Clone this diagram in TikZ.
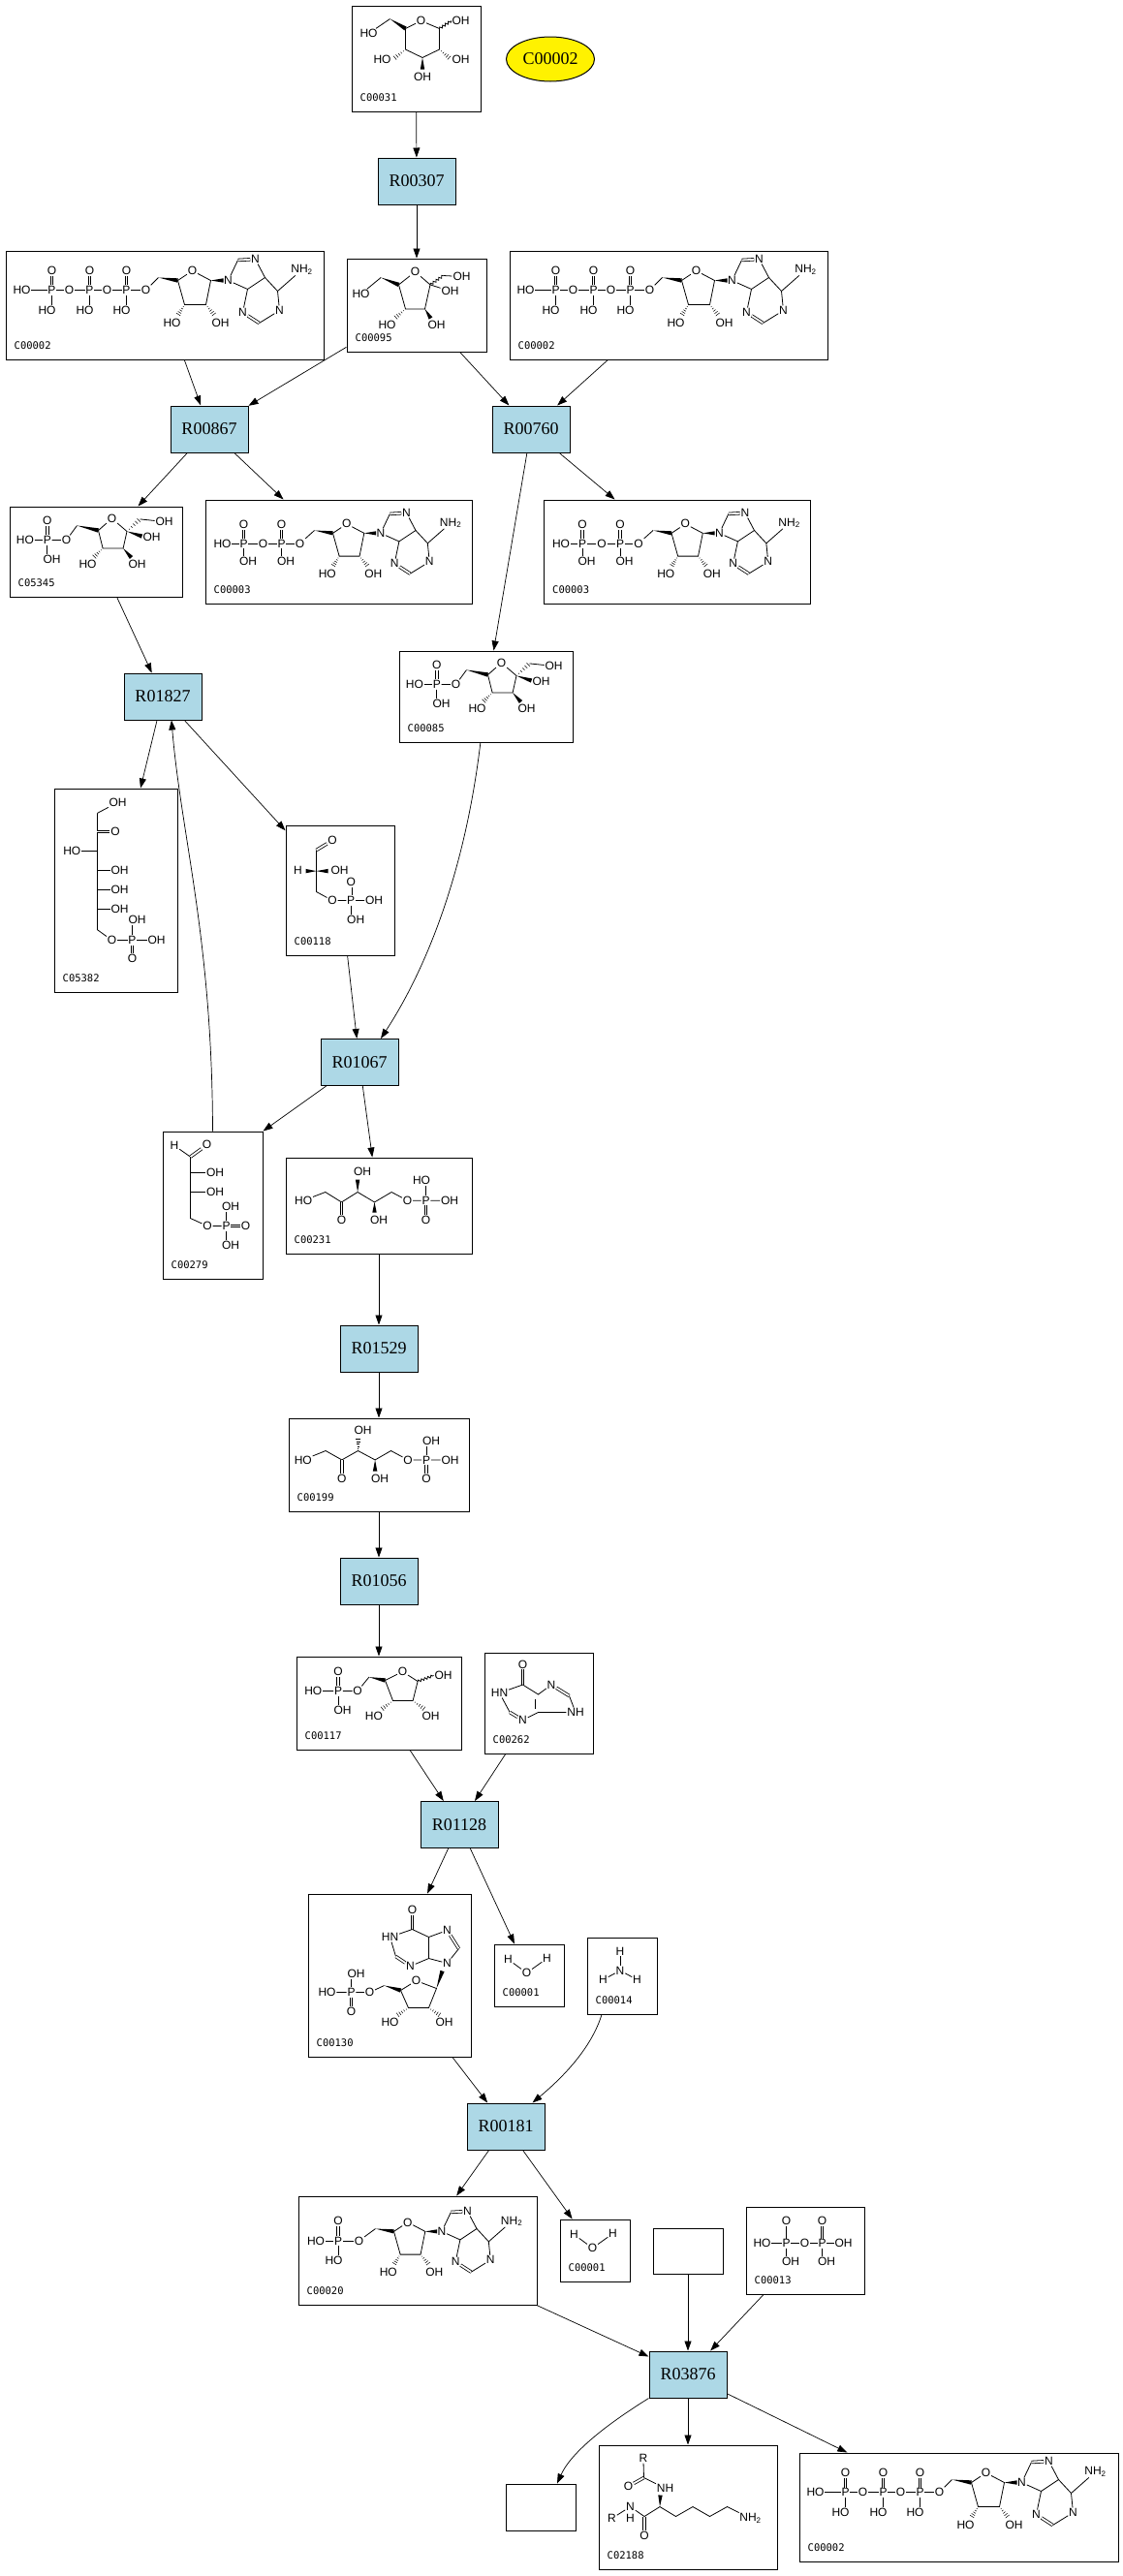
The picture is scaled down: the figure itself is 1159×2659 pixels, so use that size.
\documentclass[tikz,border=0pt]{standalone}
\usepackage{fontspec}
\setmainfont{Liberation Serif}
\newfontfamily\chemf{Liberation Sans}
\newfontfamily\idf{DejaVu Sans Mono}
\usetikzlibrary{arrows.meta,calc,shapes.geometric,decorations.pathmorphing}
\definecolor{rxnblue}{HTML}{ADD8E6}
\newcommand\wdg[2]{\fill ($(#1)$) -- ($(#2)!2.2pt!90:(#1)$) -- ($(#2)!2.2pt!-90:(#1)$) -- cycle;}
\newcommand\hsh[2]{\foreach \k in {1,...,5}{\draw[line width=0.5pt] ($(#1)!\k/5.5!(#2)!0.5*\k pt!90:(#2)$) -- ($(#1)!\k/5.5!(#2)!0.5*\k pt!-90:(#2)$);}}
\newcommand\idlab[2]{\node[idl] (l#1) at ($(#1.south west)+(9,-15)$) {#2};}
\newcommand\adenosine{%
 \coordinate (s5) at (0,0); \coordinate (s4) at (20,3);
 \node[atm] (so) at (35,-7) {O};
 \coordinate (s1) at (54,3); \coordinate (s2) at (49,28); \coordinate (s3) at (27,28);
 \node[atm] (sho) at (14,47) {HO}; \node[atm] (soh) at (64,47) {OH};
 \coordinate (h3) at (20,39); \coordinate (h2) at (58,39);
 \wdg{s5}{s4}
 \draw[bnd] (s4)--(so)--(s1)--(s2)--(s3)--(s4);
 \hsh{s3}{h3} \hsh{s2}{h2}
 \node[atm] (n9) at (72,3) {N}; \coordinate (n9w) at (67,3);
 \wdg{s1}{n9w}
 \coordinate (c8) at (82,-18); \node[atm] (n7) at (100,-19) {N};
 \coordinate (c5) at (110,0); \coordinate (c4) at (92,12);
 \node[atm] (n3) at (87,36) {N}; \coordinate (c2) at (104,47);
 \node[atm] (n1) at (125,34) {N}; \coordinate (c6) at (123,14);
 \node[atm] (nh2) at (148,-8) {NH\textsubscript{2}};
 \draw[bnd] (n9)--(c8); \draw[dbd] (c8)--(n7);
 \draw[bnd] (n7)--(c5)--(c4)--(n9); \draw[bnd] (c4)--(n3);
 \draw[dbd] (n3)--(c2); \draw[bnd] (c2)--(n1)--(c6)--(c5); \draw[bnd] (c6)--(nh2);
}
\tikzset{
 cbox/.style={draw, line width=1pt, inner sep=0, fill=white},
 rxn/.style={draw, line width=1pt, fill=rxnblue, minimum width=80pt, minimum height=48pt, inner sep=0, font=\fontsize{18}{18}\selectfont},
 atm/.style={font=\chemf\fontsize{12}{12}\selectfont, inner sep=0.7pt},
 idl/.style={anchor=west, font=\idf\fontsize{10.5}{10.5}\selectfont, inner sep=0},
 bnd/.style={line width=0.8pt},
 dbd/.style={bnd, double, double distance=1.8pt},
 wav/.style={bnd, decorate, decoration={snake, amplitude=1.2pt, segment length=3.5pt}},
 arr/.style={line width=0.7pt, -{Triangle[length=10pt,width=7pt]}},
 atp/.pic={
  \node[atm] (p1ho) at (17,41) {HO};
  \node[atm] (p1) at (48,41) {P}; \node[atm] (p1o) at (48,21) {O}; \node[atm] (p1b) at (43,62) {HO};
  \node[atm] (o12) at (66,41) {O};
  \node[atm] (p2) at (87,41) {P}; \node[atm] (p2o) at (87,21) {O}; \node[atm] (p2b) at (82,62) {HO};
  \node[atm] (o23) at (105,41) {O};
  \node[atm] (p3) at (125,41) {P}; \node[atm] (p3o) at (125,21) {O}; \node[atm] (p3b) at (120,62) {HO};
  \node[atm] (o35) at (145,41) {O};
  \draw[bnd] (p1ho)--(p1)--(o12)--(p2)--(o23)--(p3)--(o35);
  \draw[dbd] (p1)--(p1o); \draw[dbd] (p2)--(p2o); \draw[dbd] (p3)--(p3o);
  \draw[bnd] (p1.south)--(p1.south|-p1b.north); \draw[bnd] (p2.south)--(p2.south|-p2b.north); \draw[bnd] (p3.south)--(p3.south|-p3b.north);
  \coordinate (ch2) at (158,28); \draw[bnd] (o35)--(ch2);
  \begin{scope}[shift={(158,28)}] \adenosine \end{scope}
 },
 adp/.pic={
  \node[atm] (p1ho) at (18,45.5) {HO};
  \node[atm] (p1) at (40,45.5) {P}; \node[atm] (p1o) at (40,26) {O}; \node[atm] (p1b) at (44.5,64) {OH};
  \node[atm] (o12) at (60,45.5) {O};
  \node[atm] (p2) at (79,45.5) {P}; \node[atm] (p2o) at (79,26) {O}; \node[atm] (p2b) at (83.5,64) {OH};
  \node[atm] (o25) at (98,45.5) {O};
  \draw[bnd] (p1ho)--(p1)--(o12)--(p2)--(o25);
  \draw[dbd] (p1)--(p1o); \draw[dbd] (p2)--(p2o);
  \draw[bnd] (p1.south)--(p1.south|-p1b.north); \draw[bnd] (p2.south)--(p2.south|-p2b.north);
  \coordinate (ch2) at (113,32); \draw[bnd] (o25)--(ch2);
  \begin{scope}[shift={(113,32)},scale=0.95] \adenosine \end{scope}
 },
 amp/.pic={
  \node[atm] (p1ho) at (18.5,46.5) {HO};
  \node[atm] (p1) at (41.6,46.5) {P}; \node[atm] (p1o) at (41.6,26) {O}; \node[atm] (p1b) at (37,66.6) {HO};
  \node[atm] (o15) at (63,46.5) {O};
  \draw[bnd] (p1ho)--(p1)--(o15); \draw[dbd] (p1)--(p1o);
  \draw[bnd] (p1.south)--(p1.south|-p1b.north);
  \coordinate (ch2) at (80,34); \draw[bnd] (o15)--(ch2);
  \begin{scope}[shift={(80,34)},scale=0.95] \adenosine \end{scope}
 },
 glc/.pic={
  \node[atm] (g1) at (18,29) {HO};
  \coordinate (g2) at (40,14); \coordinate (g3) at (56,24);
  \node[atm] (g4) at (72,16) {O};
  \coordinate (g5) at (91,24);
  \node[atm] (g6) at (113,16) {OH};
  \coordinate (g7) at (91,45.5); \coordinate (g8) at (73.5,54); \coordinate (g9) at (56,45.5);
  \node[atm] (g10) at (113,55.5) {OH}; \node[atm] (g11) at (32,55.5) {HO}; \node[atm] (g12) at (73.5,74) {OH};
  \coordinate (g13) at (102,55); \coordinate (g14) at (44,55); \coordinate (g15) at (73.5,66);
  \draw[bnd] (g1)--(g2); \wdg{g2}{g3}
  \draw[bnd] (g3)--(g4)--(g5)--(g7)--(g8)--(g9)--(g3);
  \draw[wav] (g5)--(g6.west);
  \hsh{g7}{g13} \hsh{g9}{g14} \wdg{g8}{g15}
 },
 frc/.pic={
  \node[atm] (f1) at (15,37) {HO};
  \coordinate (f2) at (35.6,20); \coordinate (f3) at (54,27.4);
  \node[atm] (f4) at (71,14) {O};
  \coordinate (f5) at (86.5,27.4); \coordinate (f6) at (100,18);
  \node[atm] (f7) at (119,19) {OH}; \node[atm] (f8) at (107,34) {OH};
  \coordinate (f9) at (81,52.4); \coordinate (f10) at (61,52.4);
  \node[atm] (f11) at (42,69) {HO}; \node[atm] (f12) at (93,69) {OH};
  \coordinate (f13) at (50,62); \coordinate (f14) at (87,62);
  \draw[bnd] (f1)--(f2); \wdg{f2}{f3}
  \draw[bnd] (f3)--(f4)--(f5)--(f9)--(f10)--(f3);
  \draw[wav] (f5)--(f6); \draw[bnd] (f6)--(f7); \draw[bnd] (f5)--(f8);
  \hsh{f10}{f13} \wdg{f9}{f14}
 },
 fsp/.pic={
  \node[atm] (q1) at (39.3,15) {O}; \node[atm] (q2) at (39.3,35) {P};
  \node[atm] (q3) at (16.4,35) {HO}; \node[atm] (q4) at (59,35) {O}; \node[atm] (q5) at (44,55) {OH};
  \coordinate (q6) at (70,20); \coordinate (q7) at (92,25);
  \node[atm] (q8) at (106,12.7) {O};
  \coordinate (q9) at (121.5,26); \coordinate (q10) at (135,13.4);
  \node[atm] (q11) at (160,16) {OH}; \node[atm] (q12) at (147,31.8) {OH};
  \coordinate (q13) at (117.6,43.5); \coordinate (q14) at (96.6,43.5);
  \node[atm] (q15) at (81,60) {HO}; \node[atm] (q16) at (132,60) {OH};
  \coordinate (q17) at (87,53); \coordinate (q18) at (126,53); \coordinate (q19) at (137,31);
  \draw[dbd] (q2)--(q1); \draw[bnd] (q3)--(q2)--(q4)--(q6);
  \draw[bnd] (q2.south)--(q2.south|-q5.north);
  \wdg{q6}{q7}
  \draw[bnd] (q7)--(q8)--(q9)--(q13)--(q14)--(q7);
  \hsh{q9}{q10} \draw[bnd] (q10)--(q11);
  \wdg{q9}{q19} \hsh{q14}{q17} \wdg{q13}{q18}
 },
 sed/.pic={
  \coordinate (e0) at (44.7,26); \coordinate (e1) at (44.7,146);
  \draw[bnd] (e0)--(e1);
  \node[atm] (e2) at (66,14.7) {OH}; \draw[bnd] (e0)--(e2);
  \node[atm] (e3) at (63.5,45) {O}; \draw[dbd] (44.7,45)--(e3);
  \node[atm] (e4) at (18.8,65) {HO}; \draw[bnd] (e4)--(44.7,65);
  \node[atm] (e5) at (68,85) {OH}; \draw[bnd] (44.7,85)--(e5);
  \node[atm] (e6) at (68,105) {OH}; \draw[bnd] (44.7,105)--(e6);
  \node[atm] (e7) at (68,125) {OH}; \draw[bnd] (44.7,125)--(e7);
  \node[atm] (e8) at (60,157) {O}; \draw[bnd] (e1)--(e8);
  \node[atm] (e9) at (81,157) {P}; \node[atm] (e10) at (86,136) {OH};
  \node[atm] (e11) at (106,157) {OH}; \node[atm] (e12) at (81,176) {O};
  \draw[bnd] (e8)--(e9)--(e11); \draw[bnd] (e9.north)--(e9.north|-e10.south); \draw[dbd] (e9)--(e12);
 },
 gap/.pic={
  \node[atm] (t1) at (48.5,16) {O}; \coordinate (t2) at (32,26); \coordinate (t3) at (32,47.6);
  \node[atm] (t4) at (13,47) {H}; \node[atm] (t5) at (56,47) {OH};
  \coordinate (t6) at (32,69); \node[atm] (t7) at (48.5,78) {O}; \node[atm] (t8) at (67.7,78) {P};
  \node[atm] (t9) at (67.7,59) {O}; \node[atm] (t10) at (91.6,78) {OH}; \node[atm] (t11) at (72.7,98) {OH};
  \coordinate (t12) at (21,47.6); \coordinate (t13) at (44,47.6);
  \draw[dbd] (t2)--(t1); \draw[bnd] (t2)--(t6)--(t7)--(t8)--(t10); \draw[dbd] (t8)--(t9);
  \draw[bnd] (t8.south)--(t8.south|-t11.north);
  \wdg{t3}{t12} \wdg{t3}{t13}
 },
 ery/.pic={
  \node[atm] (u1) at (12.5,15) {H}; \coordinate (u2) at (29,26.6); \node[atm] (u3) at (46,14.3) {O};
  \coordinate (u4) at (29,90);
  \node[atm] (u5) at (54.5,43) {OH}; \node[atm] (u6) at (54.5,63) {OH};
  \node[atm] (u7) at (46.5,98) {O}; \node[atm] (u8) at (66,98) {P}; \node[atm] (u9) at (70.5,78) {OH};
  \node[atm] (u10) at (86,98) {O}; \node[atm] (u11) at (70.5,117.5) {OH};
  \draw[bnd] (u1)--(u2); \draw[dbd] (u2)--(u3); \draw[bnd] (u2)--(u4)--(u7)--(u8);
  \draw[bnd] (29,43)--(u5); \draw[bnd] (29,63)--(u6); \draw[dbd] (u8)--(u10);
  \draw[bnd] (u8.north)--(u8.north|-u9.south); \draw[bnd] (u8.south)--(u8.south|-u11.north);
 },
 xul/.pic={
  \node[atm] (v1) at (18.6,44.7) {HO}; \coordinate (v2) at (41.3,36); \coordinate (v3) at (58,46.4);
  \node[atm] (v4) at (58,65) {O}; \coordinate (v5) at (74.6,36); \node[atm] (v6) at (79.6,14.4) {OH};
  \coordinate (v7) at (74.6,23); \coordinate (v8) at (92,46.4); \coordinate (v9) at (92,57);
  \node[atm] (v10) at (96.5,65) {OH}; \coordinate (v11) at (109.6,36);
  \node[atm] (v12) at (126,44.7) {O}; \node[atm] (v13) at (145,44.7) {P}; \node[atm] (v14) at (140.5,24) {HO};
  \node[atm] (v15) at (169.5,44.7) {OH}; \node[atm] (v16) at (145,65) {O};
  \draw[bnd] (v1)--(v2)--(v3)--(v5)--(v8)--(v11)--(v12)--(v13)--(v15);
  \draw[dbd] (v3)--(v4); \wdg{v5}{v7} \wdg{v8}{v9}
  \draw[bnd] (v13.north)--(v13.north|-v14.south); \draw[dbd] (v13)--(v16);
 },
 rul/.pic={
  \node[atm] (w1) at (15.3,43.4) {HO}; \coordinate (w2) at (38.6,34); \coordinate (w3) at (55.3,43.4);
  \node[atm] (w4) at (55.3,63) {O}; \coordinate (w5) at (72,34); \node[atm] (w6) at (77,13) {OH};
  \coordinate (w7) at (72,21); \coordinate (w8) at (89.6,43.4); \coordinate (w9) at (89.6,55);
  \node[atm] (w10) at (94.6,63) {OH}; \coordinate (w11) at (106,34);
  \node[atm] (w12) at (123.5,43.4) {O}; \node[atm] (w13) at (142.5,43.4) {P}; \node[atm] (w14) at (147.5,24) {OH};
  \node[atm] (w15) at (167,43.4) {OH}; \node[atm] (w16) at (142.5,63) {O};
  \draw[bnd] (w1)--(w2)--(w3)--(w5)--(w8)--(w11)--(w12)--(w13)--(w15);
  \draw[dbd] (w3)--(w4); \hsh{w5}{w7} \wdg{w8}{w9}
  \draw[bnd] (w13.north)--(w13.north|-w14.south); \draw[dbd] (w13)--(w16);
 },
 rib/.pic={
  \node[atm] (x1) at (17.8,36) {HO}; \node[atm] (x2) at (43.5,36) {P}; \node[atm] (x3) at (43.5,16) {O};
  \node[atm] (x4) at (48,56) {OH}; \node[atm] (x5) at (63.6,36) {O};
  \coordinate (x6) at (75.4,21.6); \coordinate (x7) at (92,25); \node[atm] (x8) at (110,16) {O};
  \coordinate (x9) at (125.6,26); \node[atm] (x10) at (152,20) {OH};
  \coordinate (x11) at (120.6,46); \coordinate (x12) at (100,46);
  \node[atm] (x13) at (80.4,61.6) {HO}; \node[atm] (x14) at (139,61.6) {OH};
  \coordinate (x15) at (88,55); \coordinate (x16) at (133,55);
  \draw[bnd] (x1)--(x2)--(x5)--(x6); \draw[dbd] (x2)--(x3); \draw[bnd] (x2.south)--(x2.south|-x4.north);
  \wdg{x6}{x7}
  \draw[bnd] (x7)--(x8)--(x9)--(x11)--(x12)--(x7);
  \draw[wav] (x9)--(x10.west);
  \hsh{x12}{x15} \hsh{x11}{x16}
 },
 hyp/.pic={
  \node[atm] (y1) at (40,12.7) {O}; \coordinate (y2) at (40,33.5); \node[atm] (y3) at (16,42) {HN};
  \coordinate (y4) at (26.7,62); \node[atm] (y5) at (40,70) {N}; \coordinate (y6) at (56,62);
  \coordinate (y7) at (56,43.5); \node[atm] (y8) at (69.5,33.5) {N}; \coordinate (y9) at (88,45);
  \node[atm] (y10) at (94.5,62) {NH};
  \draw[dbd] (y2)--(y1); \draw[bnd] (y2)--(y3)--(y4); \draw[dbd] (y4)--(y5);
  \draw[bnd] (y5)--(y6)--(y10); \draw[bnd] (y2)--(y7)--(y8); \draw[dbd] (y8)--(y9); \draw[bnd] (y9)--(y10);
  \draw[bnd] (53,48)--(53,58);
 },
 imp/.pic={
  \node[atm] (i1) at (108,17) {O}; \coordinate (i2) at (108,37); \node[atm] (i3) at (85,45) {HN};
  \coordinate (i4) at (91,65); \node[atm] (i5) at (106,75) {N}; \coordinate (i6) at (125,67);
  \coordinate (i7) at (125,45); \node[atm] (i8) at (144,38) {N}; \coordinate (i9) at (156,57);
  \node[atm] (i10) at (144,72) {N};
  \draw[dbd] (i2)--(i1); \draw[bnd] (i2)--(i3)--(i4); \draw[dbd] (i4)--(i5);
  \draw[bnd] (i5)--(i6)--(i7)--(i2); \draw[bnd] (i7)--(i8); \draw[dbd] (i8)--(i9);
  \draw[bnd] (i9)--(i10)--(i6);
  \node[atm] (i11) at (112,90) {O}; \coordinate (i12) at (133,98); \coordinate (i13) at (125,118);
  \coordinate (i14) at (104,118); \coordinate (i15) at (96,100); \coordinate (i16) at (79,95);
  \node[atm] (i17) at (64,102) {O}; \node[atm] (i18) at (45,102) {P}; \node[atm] (i19) at (50,83) {OH};
  \node[atm] (i20) at (20,102) {HO}; \node[atm] (i21) at (45,122) {O};
  \node[atm] (i22) at (85,133) {HO}; \node[atm] (i23) at (141,133) {OH};
  \coordinate (i24) at (139,80); \coordinate (i25) at (92,126); \coordinate (i26) at (137,126);
  \draw[bnd] (i20)--(i18)--(i17)--(i16); \wdg{i16}{i15}
  \draw[bnd] (i15)--(i11)--(i12)--(i13)--(i14)--(i15);
  \wdg{i12}{i24} \hsh{i14}{i25} \hsh{i13}{i26}
  \draw[dbd] (i18)--(i21); \draw[bnd] (i18.north)--(i18.north|-i19.south);
 },
 wat/.pic={
  \node[atm] (k1) at (15,16) {H}; \node[atm] (k2) at (34,30) {O}; \node[atm] (k3) at (55,15) {H};
  \draw[bnd] (k1)--(k2)--(k3);
 },
 amm/.pic={
  \node[atm] (m1) at (34.5,14.5) {H}; \node[atm] (m2) at (34.5,34.5) {N};
  \node[atm] (m3) at (17,44) {H}; \node[atm] (m4) at (52,44) {H};
  \draw[bnd] (m1)--(m2); \draw[bnd] (m2)--(m3); \draw[bnd] (m2)--(m4);
 },
 ppi/.pic={
  \node[atm] (z1) at (17,38) {HO}; \node[atm] (z2) at (42,38) {P}; \node[atm] (z3) at (42,15) {O};
  \node[atm] (z4) at (46.5,57) {OH}; \node[atm] (z5) at (61,38) {O}; \node[atm] (z6) at (79,38) {P};
  \node[atm] (z7) at (79,15) {O}; \node[atm] (z8) at (101,38) {OH}; \node[atm] (z9) at (83.5,57) {OH};
  \draw[bnd] (z1)--(z2)--(z5)--(z6)--(z8); \draw[bnd] (z2)--(z3); \draw[dbd] (z6)--(z7);
  \draw[bnd] (z2.south)--(z2.south|-z4.north); \draw[bnd] (z6.south)--(z6.south|-z9.north);
 },
 lys/.pic={
  \node[atm] (r1) at (46.4,14) {R}; \coordinate (r2) at (47,34); \node[atm] (r3) at (31,43) {O};
  \node[atm] (r4) at (69,45) {NH}; \coordinate (r5) at (63.5,64); \coordinate (r6) at (47.5,74);
  \node[atm] (r7) at (47.5,94) {O}; \node[atm] (r8) at (33,64) {N}; \node[atm] (r9) at (33,76) {H};
  \node[atm] (r10) at (14,76) {R};
  \coordinate (r11) at (80,74); \coordinate (r12) at (97.5,64); \coordinate (r13) at (115,74);
  \coordinate (r14) at (133,64); \node[atm] (r15) at (157,76) {NH\textsubscript{2}};
  \coordinate (r16) at (64,52);
  \draw[bnd] (r1)--(r2); \draw[dbd] (r2)--(r3); \draw[bnd] (r2)--(r4);
  \wdg{r5}{r16}
  \draw[bnd] (r5)--(r6); \draw[dbd] (r6)--(r7); \draw[bnd] (r6)--(r8)--(r10);
  \draw[bnd] (r5)--(r11)--(r12)--(r13)--(r14)--(r15);
 },
}
\begin{document}
\begin{tikzpicture}[x=1pt,y=-1pt]
\useasboundingbox (0,0) rectangle (1159,2659);
% reaction nodes
\node[rxn] (R00307) at (430,187) {R00307};
\node[rxn] (R00867) at (216,443) {R00867};
\node[rxn] (R00760) at (548,443) {R00760};
\node[rxn] (R01827) at (168,719) {R01827};
\node[rxn] (R01067) at (371,1096.5) {R01067};
\node[rxn] (R01529) at (391,1392) {R01529};
\node[rxn] (R01056) at (391,1632) {R01056};
\node[rxn] (R01128) at (474,1883.5) {R01128};
\node[rxn] (R00181) at (522,2195) {R00181};
\node[rxn] (R03876) at (710,2451) {R03876};
% compound boxes
\node[cbox, minimum width=133pt, minimum height=109pt] (bC00031) at (429.5,60.5) {};
\node[draw, line width=1pt, fill=yellow, ellipse, minimum width=91pt, minimum height=46pt, inner sep=0, font=\fontsize{18}{18}\selectfont] (eC00002) at (568,61) {C00002};
\node[cbox, minimum width=144pt, minimum height=96pt] (bC00095) at (430,315) {};
\node[cbox, minimum width=328pt, minimum height=112pt] (bC00002a) at (170,315) {};
\node[cbox, minimum width=328pt, minimum height=112pt] (bC00002b) at (690,315) {};
\node[cbox, minimum width=178pt, minimum height=93pt] (bC05345) at (99,569.5) {};
\node[cbox, minimum width=275pt, minimum height=107pt] (bC00003a) at (349.5,569.5) {};
\node[cbox, minimum width=275pt, minimum height=107pt] (bC00003b) at (699,569.5) {};
\node[cbox, minimum width=179pt, minimum height=94pt] (bC00085) at (501.5,719) {};
\node[cbox, minimum width=127pt, minimum height=210pt] (bC05382) at (119.5,919) {};
\node[cbox, minimum width=112pt, minimum height=134pt] (bC00118) at (351,919) {};
\node[cbox, minimum width=103pt, minimum height=152pt] (bC00279) at (219.5,1244) {};
\node[cbox, minimum width=192pt, minimum height=99pt] (bC00231) at (391,1244.5) {};
\node[cbox, minimum width=186pt, minimum height=96pt] (bC00199) at (391,1512) {};
\node[cbox, minimum width=170pt, minimum height=96pt] (bC00117) at (391,1758) {};
\node[cbox, minimum width=112pt, minimum height=104pt] (bC00262) at (556,1758) {};
\node[cbox, minimum width=168pt, minimum height=168pt] (bC00130) at (402,2039) {};
\node[cbox, minimum width=72pt, minimum height=64pt] (bC00001a) at (546,2039) {};
\node[cbox, minimum width=72pt, minimum height=79pt] (bC00014) at (642,2039.5) {};
\node[cbox, minimum width=246pt, minimum height=112pt] (bC00020) at (431,2323) {};
\node[cbox, minimum width=72pt, minimum height=64pt] (bC00001b) at (614,2323) {};
\node[cbox, minimum width=72pt, minimum height=47pt] (bE1) at (710,2323.5) {};
\node[cbox, minimum width=122pt, minimum height=90pt] (bC00013) at (831,2323) {};
\node[cbox, minimum width=72pt, minimum height=48pt] (bE2) at (558,2588) {};
\node[cbox, minimum width=184pt, minimum height=128pt] (bC02188) at (710,2588) {};
\node[cbox, minimum width=329pt, minimum height=112pt] (bC00002c) at (989.5,2588) {};
% structures
\pic at (bC00031.north west) {glc};
\pic at (bC00095.north west) {frc};
\pic at (bC00002a.north west) {atp};
\pic at (bC00002b.north west) {atp};
\pic at (bC05345.north west) {fsp};
\pic at (bC00003a.north west) {adp};
\pic at (bC00003b.north west) {adp};
\pic at (bC00085.north west) {fsp};
\pic at (bC05382.north west) {sed};
\pic at (bC00118.north west) {gap};
\pic at (bC00279.north west) {ery};
\pic at (bC00231.north west) {xul};
\pic at (bC00199.north west) {rul};
\pic at (bC00117.north west) {rib};
\pic at (bC00262.north west) {hyp};
\pic at (bC00130.north west) {imp};
\pic at (bC00001a.north west) {wat};
\pic at (bC00014.north west) {amm};
\pic at (bC00020.north west) {amp};
\pic at (bC00001b.north west) {wat};
\pic at (bC00013.north west) {ppi};
\pic at (bC02188.north west) {lys};
\pic at (bC00002c.north west) {atp};
% id labels
\idlab{bC00031}{C00031}
\idlab{bC00095}{C00095}
\idlab{bC00002a}{C00002}
\idlab{bC00002b}{C00002}
\idlab{bC05345}{C05345}
\idlab{bC00003a}{C00003}
\idlab{bC00003b}{C00003}
\idlab{bC00085}{C00085}
\idlab{bC05382}{C05382}
\idlab{bC00118}{C00118}
\idlab{bC00279}{C00279}
\idlab{bC00231}{C00231}
\idlab{bC00199}{C00199}
\idlab{bC00117}{C00117}
\idlab{bC00262}{C00262}
\idlab{bC00130}{C00130}
\idlab{bC00001a}{C00001}
\idlab{bC00014}{C00014}
\idlab{bC00020}{C00020}
\idlab{bC00001b}{C00001}
\idlab{bC00013}{C00013}
\idlab{bC02188}{C02188}
\idlab{bC00002c}{C00002}
% edges
\draw[arr] (bC00031) -- (R00307);
\draw[arr] (R00307) -- (bC00095);
\draw[arr] (bC00002a) -- (R00867);
\draw[arr] (bC00095) -- (R00867);
\draw[arr] (bC00095) -- (R00760);
\draw[arr] (bC00002b) -- (R00760);
\draw[arr] (R00867) -- (bC05345);
\draw[arr] (R00867) -- (bC00003a);
\draw[arr] (R00760) -- (bC00003b);
\draw[arr] (R00760) -- (bC00085);
\draw[arr] (bC05345) -- (R01827);
\draw[arr] (R01827) -- (bC05382);
\draw[arr] (R01827) -- (bC00118);
\draw[arr] (bC00279.north) .. controls (219,968) and (187,863) .. ([xshift=9pt]R01827.south);
\draw[arr] (bC00085) .. controls (480,900) and (440,1000) .. ([xshift=22pt]R01067.north);
\draw[arr] (bC00118) -- (R01067);
\draw[arr] (R01067) -- (bC00279.north east);
\draw[arr] (R01067) -- (bC00231);
\draw[arr] (bC00231) -- (R01529);
\draw[arr] (R01529) -- (bC00199);
\draw[arr] (bC00199) -- (R01056);
\draw[arr] (R01056) -- (bC00117);
\draw[arr] (bC00117) -- (R01128);
\draw[arr] (bC00262) -- (R01128);
\draw[arr] (R01128) -- (bC00130);
\draw[arr] (R01128) -- (bC00001a);
\draw[arr] (bC00130) -- (R00181);
\draw[arr] ([xshift=-21pt]bC00014.south) .. controls (610,2115) and (580,2145) .. ([xshift=-13pt]R00181.north east);
\draw[arr] (R00181) -- (bC00020);
\draw[arr] (R00181) -- (bC00001b);
\draw[arr] (bC00020) -- (R03876);
\draw[arr] (bE1) -- (R03876);
\draw[arr] (bC00013) -- (R03876);
\draw[arr] (R03876.south west) .. controls (630,2500) and (590,2530) .. ([xshift=17pt]bE2.north);
\draw[arr] (R03876) -- (bC02188);
\draw[arr] (R03876) -- (bC00002c);
\end{tikzpicture}
\end{document}
